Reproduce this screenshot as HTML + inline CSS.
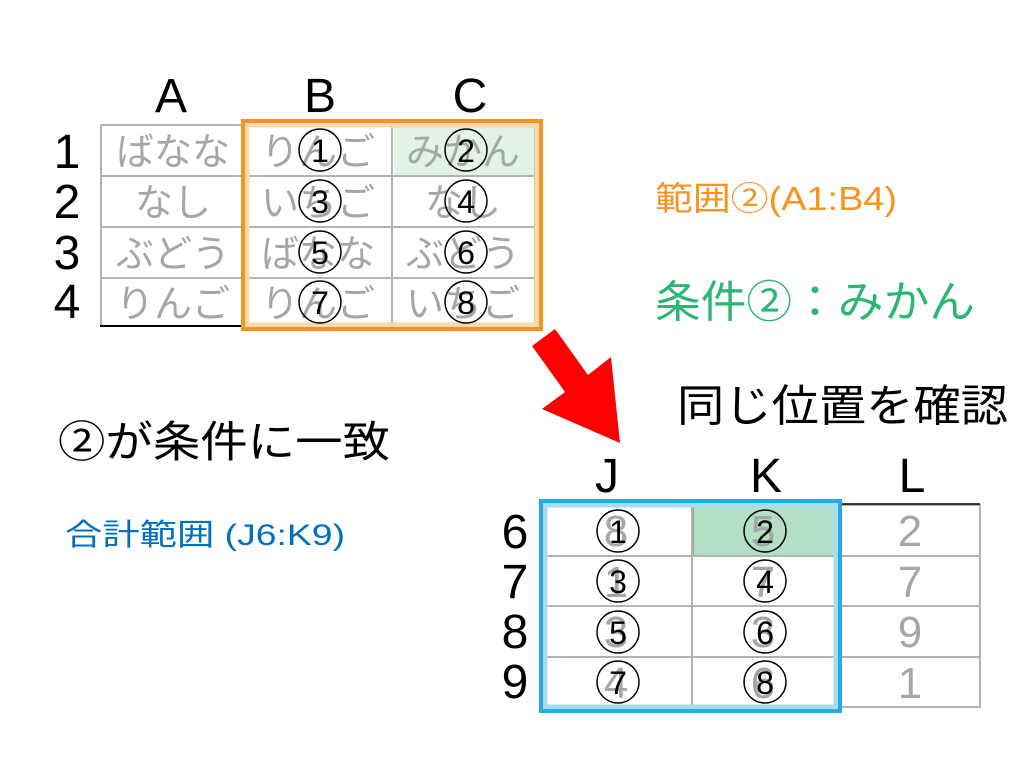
<!DOCTYPE html>
<html><head><meta charset="utf-8"><style>
html,body{margin:0;padding:0;background:#fff;}
svg{display:block;}
text{font-family:"Liberation Sans","Noto Sans CJK JP",sans-serif;}
</style></head><body>
<svg width="1024" height="768" viewBox="0 0 1024 768" xmlns="http://www.w3.org/2000/svg">
<!-- top table -->
<rect x="394" y="127" width="141" height="49" fill="#e2f2e6"/>
<g stroke="#b3b3b3" stroke-width="2" fill="none">
<rect x="101" y="125" width="434" height="201"/>
<line x1="101" y1="176" x2="535" y2="176"/><line x1="101" y1="227" x2="535" y2="227"/><line x1="101" y1="278" x2="535" y2="278"/>
<line x1="245" y1="125" x2="245" y2="326"/><line x1="392" y1="125" x2="392" y2="326"/>
</g>
<line x1="100" y1="326" x2="245" y2="326" stroke="#000" stroke-width="2"/>
<g font-size="38" fill="#a6a6a6" text-anchor="middle">
<text x="173" y="165">ばなな</text><text x="318" y="165">りんご</text><text x="463" y="165">みかん</text>
<text x="173" y="216">なし</text><text x="318" y="216">いちご</text><text x="463" y="216">なし</text>
<text x="173" y="267">ぶどう</text><text x="318" y="267">ばなな</text><text x="463" y="267">ぶどう</text>
<text x="173" y="317">りんご</text><text x="318" y="317">りんご</text><text x="463" y="317">いちご</text>
</g>
<rect x="247" y="125" width="290" height="200" fill="none" stroke="#fbd9b0" stroke-width="5"/>
<rect x="243" y="121" width="298" height="208" fill="none" stroke="#f7931e" stroke-width="4"/>
<g fill="none" stroke="#000" stroke-width="1.5">
<circle cx="320" cy="150" r="21"/><circle cx="466" cy="150" r="21"/>
<circle cx="320" cy="201" r="21"/><circle cx="466" cy="201" r="21"/>
<circle cx="320" cy="252" r="21"/><circle cx="466" cy="252" r="21"/>
<circle cx="320" cy="302" r="21"/><circle cx="466" cy="302" r="21"/>
</g>
<g font-size="32" fill="#000" text-anchor="middle">
<text x="320" y="162">1</text><text x="466" y="162">2</text>
<text x="320" y="213">3</text><text x="466" y="213">4</text>
<text x="320" y="264">5</text><text x="466" y="264">6</text>
<text x="320" y="314">7</text><text x="466" y="314">8</text>
</g>
<g font-size="48" fill="#000" text-anchor="middle">
<text x="171" y="112">A</text><text x="320" y="112">B</text><text x="470" y="112">C</text>
<text x="67" y="168">1</text><text x="67" y="218">2</text><text x="67" y="269">3</text><text x="67" y="318">4</text>
<text x="607" y="492">J</text><text x="766" y="492">K</text><text x="912" y="492">L</text>
<text x="515" y="548">6</text><text x="515" y="598">7</text><text x="515" y="648">8</text><text x="515" y="698">9</text>
</g>
<!-- arrow -->
<polygon points="532,346 555,329 588,375 611,357 620,443 542,409 565,392" fill="#ff0000"/>
<!-- labels -->
<text x="655" y="210" font-size="33" fill="#f7931e" textLength="242" lengthAdjust="spacingAndGlyphs">範囲②(A1:B4)</text>
<text x="655" y="317" font-size="44" fill="#2bb673" textLength="320" lengthAdjust="spacingAndGlyphs">条件②：みかん</text>
<text x="677" y="421" font-size="44" fill="#000" textLength="331" lengthAdjust="spacingAndGlyphs">同じ位置を確認</text>
<text x="58" y="457" font-size="43" fill="#000" textLength="332" lengthAdjust="spacingAndGlyphs">②が条件に一致</text>
<text x="65" y="545" font-size="30" fill="#0071bc" textLength="280" lengthAdjust="spacingAndGlyphs">合計範囲 (J6:K9)</text>
<!-- bottom table -->
<rect x="693" y="506" width="142" height="50" fill="#b2dfc6" stroke="#5ea882" stroke-width="1.5"/>
<g stroke="#b3b3b3" stroke-width="2" fill="none">
<rect x="541" y="505" width="439" height="202"/>
<line x1="541" y1="556" x2="980" y2="556"/><line x1="541" y1="606" x2="980" y2="606"/><line x1="541" y1="657" x2="980" y2="657"/>
<line x1="692" y1="505" x2="692" y2="707"/><line x1="835" y1="505" x2="835" y2="707"/>
</g>
<line x1="840" y1="504" x2="980" y2="504" stroke="#000" stroke-width="1.5"/>
<g font-size="44" fill="#a6a6a6" text-anchor="middle">
<text x="616" y="546">8</text><text x="763" y="546">5</text><text x="910" y="546">2</text>
<text x="616" y="597">1</text><text x="763" y="597">7</text><text x="910" y="597">7</text>
<text x="616" y="647">3</text><text x="763" y="647">3</text><text x="910" y="647">9</text>
<text x="616" y="698">4</text><text x="763" y="698">6</text><text x="910" y="698">1</text>
</g>
<rect x="545" y="505" width="291" height="202" fill="none" stroke="#a8dcf0" stroke-width="5"/>
<rect x="541" y="501" width="299" height="210" fill="none" stroke="#29abe2" stroke-width="4"/>
<g fill="none" stroke="#000" stroke-width="1.5">
<circle cx="618" cy="531" r="21"/><circle cx="765" cy="531" r="21"/>
<circle cx="618" cy="581" r="21"/><circle cx="765" cy="581" r="21"/>
<circle cx="618" cy="632" r="21"/><circle cx="765" cy="632" r="21"/>
<circle cx="618" cy="682" r="21"/><circle cx="765" cy="682" r="21"/>
</g>
<g font-size="32" fill="#000" text-anchor="middle">
<text x="618" y="543">1</text><text x="765" y="543">2</text>
<text x="618" y="593">3</text><text x="765" y="593">4</text>
<text x="618" y="644">5</text><text x="765" y="644">6</text>
<text x="618" y="694">7</text><text x="765" y="694">8</text>
</g>
</svg>
</body></html>
